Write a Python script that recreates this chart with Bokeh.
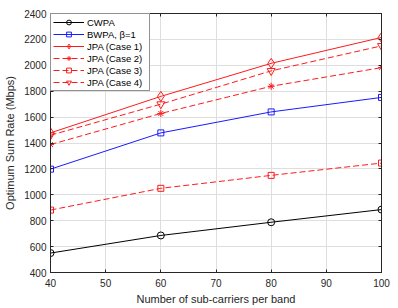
from bokeh.plotting import figure
from bokeh.models import LinearAxis, Legend, LegendItem, FixedTicker
from bokeh.embed import file_html
from bokeh.resources import INLINE

x = [40, 60, 80, 100]
cwpa = [550, 686, 788, 886]
bwpa = [1198, 1478, 1640, 1752]
case1 = [1478, 1760, 2015, 2215]
case2 = [1388, 1628, 1838, 1982]
case3 = [882, 1050, 1150, 1245]
case4 = [1460, 1700, 1957, 2150]

x_ticks = [40, 50, 60, 70, 80, 90, 100]
y_ticks = [400, 600, 800, 1000, 1200, 1400, 1600, 1800, 2000, 2200, 2400]

FONT = "Liberation Sans"
AXC = "#262626"

p = figure(width=398, height=308, output_backend="svg", toolbar_location=None,
           x_range=(40, 100), y_range=(400, 2400),
           min_border_left=50, min_border_right=17, min_border_top=13, min_border_bottom=36,
           x_axis_label="Number of sub-carriers per band",
           y_axis_label="Optimum Sum Rate (Mbps)")
p.outline_line_color = AXC
p.outline_line_width = 1
p.background_fill_color = "white"
p.border_fill_color = "white"

for ax in p.xaxis + p.yaxis:
    ax.major_label_text_font = FONT
    ax.major_label_text_font_size = "10px"
    ax.major_label_text_color = AXC
    ax.axis_label_text_font = FONT
    ax.axis_label_text_font_size = "11px"
    ax.axis_label_text_font_style = "normal"
    ax.axis_label_text_color = AXC
    ax.axis_line_color = AXC
    ax.major_tick_line_color = AXC
    ax.major_tick_in = 3
    ax.major_tick_out = 0
    ax.minor_tick_line_color = None
p.xaxis.major_label_standoff = 6
p.xaxis.axis_label_standoff = 3
p.yaxis.major_label_standoff = 4
p.yaxis.axis_label_standoff = 5
p.xaxis.ticker = FixedTicker(ticks=x_ticks)
p.yaxis.ticker = FixedTicker(ticks=y_ticks)

for loc, ticks in (("right", y_ticks), ("above", x_ticks)):
    ax = LinearAxis(ticker=FixedTicker(ticks=ticks))
    ax.major_label_overrides = {t: "" for t in ticks}
    ax.major_label_text_color = None
    ax.major_label_standoff = 0
    ax.major_tick_in = 3
    ax.major_tick_out = 0
    ax.minor_tick_line_color = None
    ax.axis_line_color = AXC
    ax.major_tick_line_color = AXC
    p.add_layout(ax, loc)

p.xgrid.ticker = FixedTicker(ticks=x_ticks)
p.ygrid.ticker = FixedTicker(ticks=y_ticks)
p.grid.grid_line_color = "#dedede"
p.grid.grid_line_width = 1

RED = "#ff1a1a"
series = [
    ("CWPA", cwpa, "black", "solid", "circle", 7),
    ("BWPA, β=1", bwpa, "#1a1aff", "solid", "square", 6),
    ("JPA (Case 1)", case1, RED, "solid", "diamond", 10),
    ("JPA (Case 2)", case2, RED, "6 3", "asterisk", 7),
    ("JPA (Case 3)", case3, RED, "6 3", "square", 6),
    ("JPA (Case 4)", case4, RED, "6 3", "inverted_triangle", 8),
]
items = []
for label, ys, color, dash, marker, size in series:
    lr = p.line(x, ys, line_color=color, line_width=1, line_dash=dash)
    sr = p.scatter(x, ys, marker=marker, size=size, line_color=color,
                   fill_color=None, line_width=1)
    items.append(LegendItem(label=label, renderers=[lr, sr]))

legend = Legend(items=items, location="top_left")
legend.label_text_font = FONT
legend.label_text_font_size = "9.5px"
legend.label_text_color = "black"
legend.glyph_width = 31
legend.glyph_height = 12
legend.label_height = 12
legend.label_width = 60
legend.spacing = 0
legend.padding = 2
legend.margin = 0
legend.label_standoff = 3
legend.border_line_color = AXC
legend.border_line_width = 1
legend.background_fill_color = "white"
legend.background_fill_alpha = 1
p.add_layout(legend)

open("out.html", "w").write(file_html(p, INLINE))
